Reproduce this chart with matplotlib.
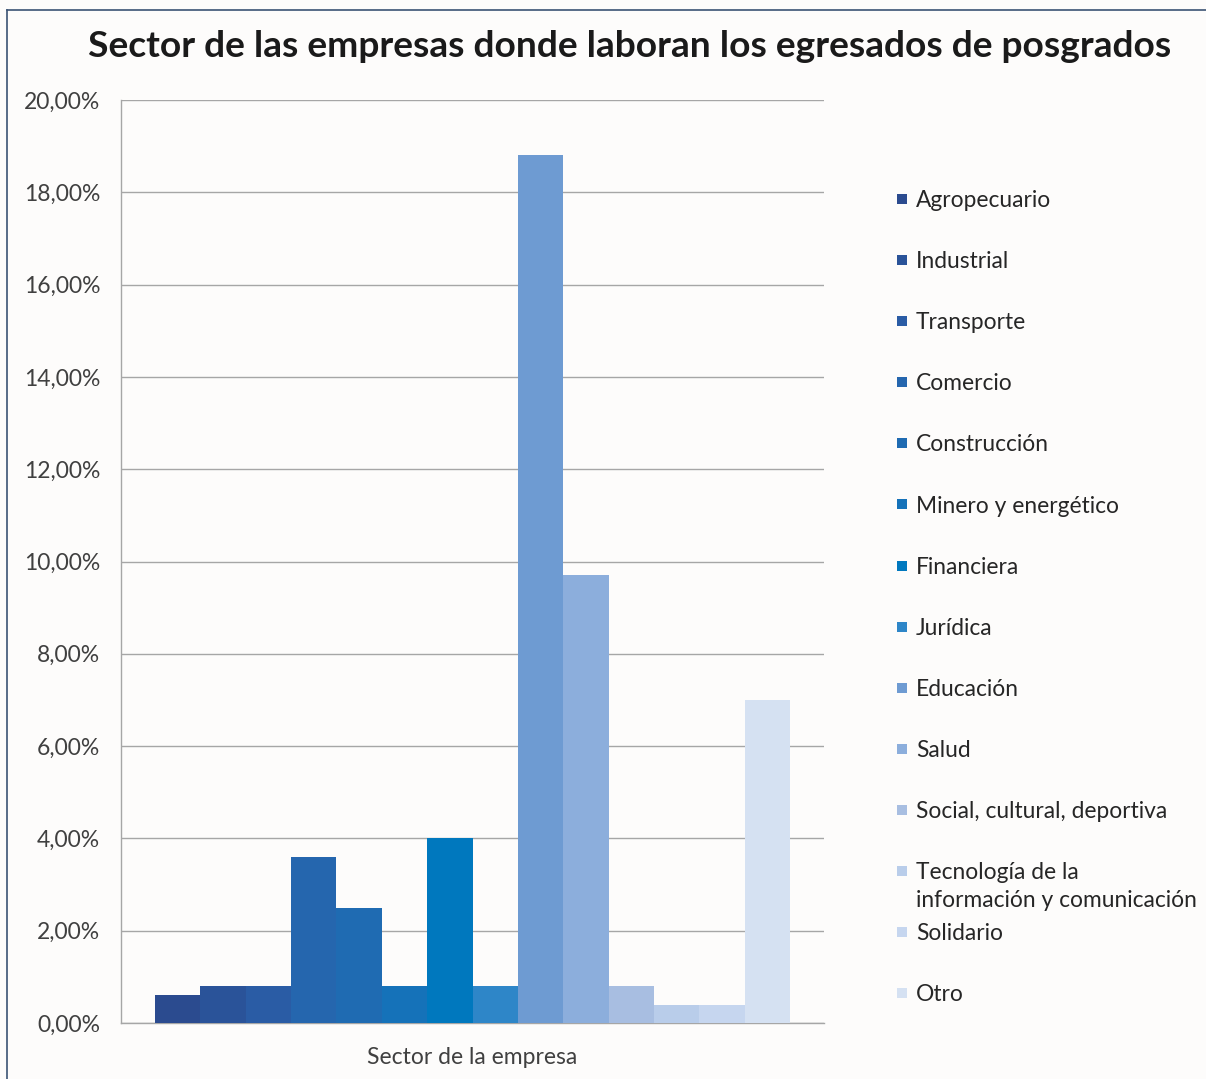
import matplotlib
matplotlib.use("Agg")
import matplotlib.pyplot as plt
from matplotlib.patches import Rectangle
from matplotlib.ticker import FuncFormatter

# Porcentaje de egresados por sector
sectores = [
    "Agropecuario", "Industrial", "Transporte", "Comercio", "Construcción",
    "Minero y energético", "Financiera", "Jurídica", "Educación", "Salud",
    "Social, cultural, deportiva",
    "Tecnología de la\ninformación y comunicación",
    "Solidario", "Otro",
]
porcentajes = [0.6, 0.8, 0.8, 3.6, 2.5, 0.8, 4.0, 0.8, 18.8, 9.7, 0.8, 0.4, 0.4, 7.0]
colores = [
    "#2B4B8F", "#2A5399", "#2A5CA5", "#2566AE", "#1F6BB2", "#1572B9",
    "#0078BE", "#2E86C8", "#6E9BD2", "#8CAEDC", "#A8BEE1", "#B9CDEA",
    "#C6D6EF", "#D5E1F2",
]
yticks = list(range(0, 21, 2))

FONT = ["Lato", "DejaVu Sans"]
BG = "#FDFCFB"

fig = plt.figure(figsize=(12.06, 10.79), dpi=100, facecolor=BG)
ax = fig.add_axes([0.1003, 0.0519, 0.5830, 0.8554], facecolor=BG)

for i, (v, c) in enumerate(zip(porcentajes, colores)):
    ax.bar(i, v, width=1.0, color=c, edgecolor="none", zorder=3)

ax.set_xlim(-1.25, len(sectores) + 0.25)
ax.set_ylim(0, 20)
ax.set_yticks(yticks)
ax.yaxis.set_major_formatter(FuncFormatter(lambda v, _: f"{v:.2f}".replace(".", ",") + "%"))
ax.grid(axis="y", color="#A6A6A6", linewidth=1.0, zorder=0)
ax.set_xticks([(len(sectores) - 1) / 2])
ax.set_xticklabels(["Sector de la empresa"])
ax.tick_params(axis="x", length=0, pad=17)
ax.tick_params(axis="y", length=0, pad=15)
for lbl in ax.get_xticklabels() + ax.get_yticklabels():
    lbl.set_family(FONT)
    lbl.set_fontsize(16.5)
    lbl.set_color("#404040")
for s in ("top", "right"):
    ax.spines[s].set_visible(False)
for s in ("left", "bottom"):
    ax.spines[s].set_color("#A6A6A6")
    ax.spines[s].set_linewidth(1.0)

fig.text(0.522, 0.957, "Sector de las empresas donde laboran los egresados de posgrados",
         ha="center", va="center", family=FONT, fontsize=26.7, fontweight="bold",
         color="#1A1A1A")

# leyenda dibujada a mano, paso fijo entre entradas
W, H = 1206, 1079
y0, paso = 199, 61.1
for i, (nombre, c) in enumerate(zip(sectores, colores)):
    yc = y0 + i * paso
    fig.patches.append(Rectangle((897 / W, 1 - (yc + 5) / H), 10 / W, 10 / H,
                                 transform=fig.transFigure, facecolor=c,
                                 edgecolor="none"))
    fig.text(916 / W, 1 - (yc - 9) / H, nombre, ha="left", va="top",
             family=FONT, fontsize=16.4, color="#262626", linespacing=1.4)

# marco del gráfico
fig.add_artist(plt.Line2D([7 / W, 7 / W], [0, 1 - 10 / H], transform=fig.transFigure,
                          color="#3B5374", linewidth=1.2))
fig.add_artist(plt.Line2D([7 / W, 1], [1 - 10 / H, 1 - 10 / H], transform=fig.transFigure,
                          color="#3B5374", linewidth=1.2))

fig.savefig("out.png", dpi=100, facecolor=BG)
